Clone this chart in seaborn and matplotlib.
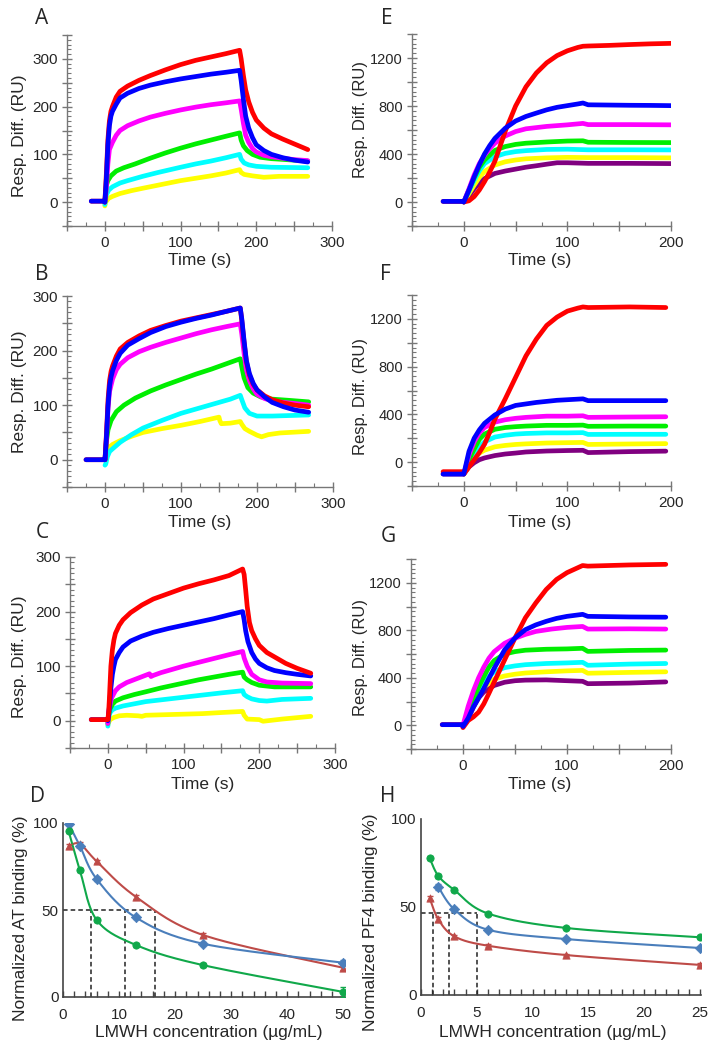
import numpy as np
import seaborn as sns
import matplotlib
matplotlib.use("Agg")
import matplotlib.pyplot as plt
from matplotlib.ticker import MultipleLocator, FuncFormatter

sns.set_style("ticks")
plt.rcParams['font.family'] = ['Liberation Sans', 'DejaVu Sans']

# ---------------- sensorgram data (time s, response RU) ----------------
# panel A
tA_red = [-18, -1, 0, 2, 4, 6, 8, 10, 15, 20, 30, 45, 60, 80, 100, 120, 140, 160, 178, 180, 183, 186, 190, 195, 200, 210, 220, 235, 250, 268]
A_red = [2, 2, 0, 60, 130, 170, 190, 200, 220, 232, 243, 255, 265, 277, 288, 297, 304, 311, 318, 300, 265, 235, 210, 188, 172, 155, 143, 132, 122, 110]
tA_blue = [-18, -1, 0, 2, 4, 6, 8, 10, 15, 20, 30, 45, 60, 80, 100, 120, 140, 160, 178, 180, 183, 186, 190, 195, 200, 210, 220, 235, 250, 268]
A_blue = [2, 2, 0, 50, 120, 160, 180, 190, 205, 218, 228, 238, 245, 252, 258, 263, 268, 272, 276, 255, 215, 180, 155, 135, 120, 108, 100, 93, 88, 84]
tA_mag = [0, 2, 4, 6, 10, 15, 20, 30, 45, 60, 80, 100, 120, 140, 160, 178, 180, 183, 186, 190, 195, 200, 210, 220, 235, 250, 268]
A_mag = [0, 30, 80, 110, 125, 140, 150, 160, 170, 178, 186, 193, 199, 204, 208, 212, 195, 165, 140, 125, 112, 105, 98, 95, 92, 89, 87]
tA_green = [0, 2, 4, 8, 15, 25, 40, 60, 80, 100, 120, 140, 160, 178, 180, 183, 188, 195, 205, 220, 240, 268]
A_green = [0, 35, 45, 55, 65, 72, 80, 92, 103, 113, 122, 130, 138, 145, 130, 118, 108, 100, 94, 91, 89, 86]
tA_cyan = [0, 2, 5, 10, 20, 30, 50, 70, 100, 120, 140, 160, 178, 180, 184, 190, 200, 220, 268]
A_cyan = [-5, 15, 25, 32, 40, 45, 54, 62, 73, 80, 86, 93, 100, 90, 82, 78, 75, 73, 72]
tA_yellow = [0, 1, 5, 10, 20, 35, 50, 75, 100, 120, 140, 160, 178, 180, 184, 195, 210, 230, 268]
A_yellow = [-8, 0, 8, 12, 18, 24, 29, 37, 45, 50, 55, 61, 68, 62, 58, 55, 52, 54, 54]

# panel B
tB_red = [-25, -1, 0, 2, 4, 6, 8, 10, 15, 20, 30, 45, 60, 80, 100, 120, 140, 160, 178, 180, 183, 186, 190, 195, 200, 210, 220, 235, 250, 268]
B_red = [0, 0, 0, 50, 110, 145, 162, 172, 190, 203, 215, 227, 237, 246, 254, 260, 266, 272, 278, 255, 215, 180, 155, 138, 128, 117, 110, 104, 100, 97]
tB_blue = [-25, -1, 0, 2, 4, 6, 8, 10, 15, 20, 30, 45, 60, 80, 100, 120, 140, 160, 178, 180, 183, 186, 190, 195, 200, 210, 220, 235, 250, 268]
B_blue = [0, 0, 0, 45, 100, 135, 152, 163, 182, 195, 210, 222, 233, 244, 252, 259, 265, 272, 278, 258, 218, 182, 158, 140, 128, 115, 105, 97, 91, 87]
tB_mag = [0, 2, 4, 6, 10, 15, 20, 30, 45, 60, 80, 100, 120, 140, 160, 178, 180, 183, 186, 190, 195, 200, 210, 220, 235, 250, 268]
B_mag = [0, 40, 95, 125, 148, 165, 175, 187, 198, 206, 215, 223, 231, 238, 244, 249, 230, 195, 165, 145, 130, 120, 112, 108, 105, 103, 100]
tB_green = [0, 2, 4, 8, 15, 25, 40, 60, 80, 100, 120, 140, 160, 178, 180, 183, 188, 195, 205, 220, 240, 268]
B_green = [0, 35, 55, 72, 88, 100, 113, 126, 137, 147, 157, 166, 176, 185, 170, 150, 132, 122, 115, 111, 109, 106]
tB_cyan = [0, 1, 3, 6, 10, 20, 35, 50, 75, 100, 125, 150, 165, 178, 180, 184, 190, 200, 220, 268]
B_cyan = [-10, -8, 5, 15, 20, 32, 46, 58, 72, 85, 95, 105, 111, 118, 110, 95, 85, 80, 80, 82]
tB_yellow = [0, 2, 5, 10, 20, 35, 50, 75, 100, 125, 150, 151, 153, 165, 178, 180, 184, 190, 200, 206, 215, 230, 268]
B_yellow = [0, 10, 22, 28, 35, 43, 50, 57, 63, 70, 78, 72, 66, 67, 70, 65, 57, 52, 45, 42, 46, 49, 52]

# panel C
tC_red = [-22, -1, 0, 1, 2, 3, 4, 6, 8, 10, 15, 20, 30, 45, 60, 80, 100, 120, 140, 160, 178, 180, 182, 184, 187, 190, 195, 200, 210, 220, 235, 250, 268]
C_red = [2, 2, 2, 15, 40, 70, 100, 130, 148, 160, 175, 185, 198, 212, 223, 233, 243, 251, 258, 266, 278, 268, 240, 210, 180, 165, 150, 138, 125, 117, 105, 96, 87]
tC_blue = [-22, -1, 0, 1, 2, 4, 6, 8, 10, 15, 20, 30, 45, 60, 80, 100, 120, 140, 160, 178, 180, 182, 185, 190, 195, 200, 210, 220, 235, 250, 268]
C_blue = [2, 2, 0, 10, 25, 60, 85, 100, 112, 125, 135, 146, 155, 162, 169, 175, 181, 187, 194, 200, 185, 165, 145, 125, 113, 105, 97, 92, 88, 85, 82]
tC_mag = [0, 1, 3, 5, 10, 15, 25, 40, 55, 57, 60, 70, 85, 100, 120, 140, 160, 178, 180, 184, 190, 200, 210, 230, 268]
C_mag = [-5, 15, 30, 42, 55, 62, 70, 78, 86, 81, 83, 88, 94, 100, 107, 114, 121, 127, 115, 100, 85, 75, 71, 69, 68]
tC_green = [0, 1, 3, 6, 10, 20, 35, 50, 70, 100, 120, 140, 160, 178, 180, 184, 190, 200, 220, 268]
C_green = [-5, 10, 22, 30, 36, 42, 48, 53, 60, 69, 75, 80, 85, 89, 80, 75, 70, 65, 62, 62]
tC_cyan = [0, 1, 3, 6, 10, 20, 35, 50, 75, 100, 125, 150, 178, 180, 184, 190, 200, 210, 230, 268]
C_cyan = [-10, 5, 15, 20, 23, 27, 31, 35, 39, 43, 47, 51, 55, 48, 44, 40, 37, 36, 39, 41]
tC_yellow = [0, 1, 3, 8, 15, 25, 40, 45, 50, 75, 100, 125, 150, 178, 180, 184, 200, 205, 230, 268]
C_yellow = [-8, -3, 2, 6, 9, 10, 9, 8, 10, 11, 12, 13, 15, 17, 10, 3, 2, -1, 3, 8]

# panel E
tE_red = [-20, -1, 0, 5, 10, 15, 20, 25, 30, 40, 50, 60, 70, 80, 90, 100, 110, 115, 120, 140, 160, 180, 200]
E_red = [5, 5, 0, 10, 45, 100, 170, 250, 340, 590, 800, 960, 1075, 1160, 1220, 1260, 1288, 1298, 1300, 1305, 1312, 1318, 1322]
tE_blue = [-20, -1, 0, 5, 10, 15, 20, 25, 30, 40, 50, 60, 70, 80, 90, 100, 110, 115, 120, 140, 160, 180, 200]
E_blue = [5, 5, 0, 100, 210, 310, 400, 470, 530, 615, 675, 713, 741, 768, 789, 803, 817, 825, 810, 808, 806, 805, 803]
tE_mag = [0, 5, 10, 15, 20, 25, 30, 40, 50, 60, 80, 100, 115, 120, 160, 200]
E_mag = [0, 110, 225, 320, 390, 445, 490, 550, 587, 610, 630, 643, 655, 645, 645, 643]
tE_green = [0, 5, 10, 15, 20, 30, 40, 50, 60, 80, 100, 115, 120, 160, 200]
E_green = [0, 100, 200, 290, 350, 430, 462, 480, 490, 500, 508, 510, 498, 496, 495]
tE_cyan = [0, 5, 10, 15, 20, 30, 40, 50, 60, 80, 100, 120, 160, 200]
E_cyan = [0, 90, 180, 260, 320, 378, 405, 420, 428, 438, 440, 435, 435, 434]
tE_yellow = [0, 5, 10, 15, 20, 30, 40, 50, 60, 80, 100, 120, 160, 200]
E_yellow = [0, 70, 140, 205, 255, 308, 335, 350, 360, 368, 372, 370, 370, 368]
tE_purple = [0, 5, 10, 15, 20, 30, 40, 50, 60, 70, 80, 90, 100, 120, 160, 200]
E_purple = [0, 50, 110, 160, 195, 238, 258, 274, 290, 302, 315, 327, 327, 322, 322, 320]

# panel F
tF_red = [-20, -1, 0, 5, 10, 15, 20, 25, 30, 40, 50, 60, 70, 80, 90, 100, 110, 115, 120, 160, 195]
F_red = [-80, -80, -100, -40, 20, 80, 150, 250, 360, 530, 710, 890, 1030, 1145, 1215, 1265, 1290, 1300, 1295, 1300, 1295]
tF_blue = [-20, -1, 0, 5, 10, 15, 20, 30, 40, 50, 70, 90, 115, 120, 160, 195]
F_blue = [-100, -100, -100, 90, 200, 270, 325, 395, 444, 475, 500, 518, 530, 515, 515, 515]
tF_mag = [0, 5, 10, 15, 20, 30, 40, 50, 60, 80, 100, 115, 120, 160, 195]
F_mag = [-100, 60, 170, 245, 290, 335, 355, 367, 375, 385, 385, 388, 375, 378, 380]
tF_green = [0, 5, 10, 15, 20, 30, 40, 50, 60, 80, 100, 115, 120, 160, 195]
F_green = [-100, 20, 110, 190, 235, 275, 290, 297, 302, 308, 308, 310, 300, 302, 302]
tF_cyan = [0, 5, 10, 15, 20, 30, 40, 50, 60, 80, 100, 115, 120, 160, 195]
F_cyan = [-100, -10, 70, 130, 170, 210, 225, 235, 240, 245, 245, 247, 232, 233, 233]
tF_yellow = [0, 5, 10, 15, 20, 30, 40, 50, 60, 80, 100, 115, 120, 160, 195]
F_yellow = [-100, -30, 40, 75, 100, 128, 140, 148, 153, 160, 163, 165, 148, 152, 155]
tF_purple = [-20, -1, 0, 5, 10, 15, 20, 30, 40, 50, 60, 80, 100, 115, 120, 160, 195]
F_purple = [-100, -100, -100, -40, -5, 20, 35, 55, 68, 76, 85, 93, 97, 99, 80, 88, 92]

# panel G
tG_red = [-20, -1, 0, 5, 10, 15, 20, 25, 30, 40, 50, 60, 70, 80, 90, 100, 110, 115, 120, 160, 195]
G_red = [5, 5, -20, 40, 70, 110, 180, 270, 365, 550, 735, 905, 1030, 1143, 1228, 1285, 1325, 1345, 1340, 1350, 1355]
tG_blue = [-20, -1, 0, 5, 10, 15, 20, 25, 30, 40, 50, 60, 70, 80, 90, 100, 115, 120, 160, 195]
G_blue = [5, 5, -10, 60, 155, 230, 310, 395, 480, 635, 735, 805, 845, 875, 900, 917, 934, 917, 912, 910]
tG_mag = [0, 5, 10, 15, 20, 25, 30, 40, 50, 60, 70, 85, 100, 115, 120, 160, 195]
G_mag = [0, 160, 290, 400, 490, 565, 620, 690, 733, 765, 790, 810, 824, 832, 810, 812, 810]
tG_green = [0, 5, 10, 15, 20, 25, 30, 40, 50, 60, 80, 100, 115, 120, 160, 195]
G_green = [0, 90, 210, 320, 410, 490, 545, 600, 620, 632, 640, 643, 648, 622, 630, 633]
tG_cyan = [0, 5, 10, 15, 20, 30, 40, 50, 60, 80, 100, 115, 120, 160, 195]
G_cyan = [0, 80, 190, 300, 375, 450, 485, 500, 510, 520, 525, 530, 505, 515, 520]
tG_yellow = [0, 5, 10, 15, 20, 30, 40, 50, 60, 80, 100, 115, 120, 160, 195]
G_yellow = [0, 70, 170, 250, 320, 390, 415, 430, 440, 450, 458, 462, 438, 445, 450]
tG_purple = [0, 5, 10, 15, 20, 30, 40, 50, 60, 80, 100, 115, 120, 160, 195]
G_purple = [0, 60, 150, 230, 280, 335, 362, 375, 380, 382, 375, 370, 350, 355, 365]

# ---------------- dose-response data ----------------
D_conc_blue = [1, 3, 6, 13, 25, 50]
D_blue = [99.6, 87, 67.8, 45.7, 30.6, 19.7]
D_blue_err = [1.0, 1.0, 1.2, 1.0, 1.0, 1.5]
D_conc_red = [1, 3, 6, 13, 25, 50]
D_red = [86.7, 88.0, 78.0, 57.6, 35.6, 16.8]
D_red_err = [1.0, 1.2, 1.0, 1.0, 1.2, 1.5]
D_conc_green = [1, 3, 6, 13, 25, 50]
D_green = [95.4, 73.0, 44.3, 29.9, 18.3, 2.9]
D_green_err = [1.0, 1.0, 1.0, 1.2, 1.0, 3.0]

H_conc_green = [0.78, 1.56, 3, 6, 13, 25]
H_green = [77.7, 67.6, 59.6, 46.3, 38.1, 32.8]
H_green_err = [1.2, 1.2, 1.0, 0.8, 0.8, 0.8]
H_conc_blue = [1.56, 3, 6, 13, 25]
H_blue = [61.3, 48.6, 37.1, 31.8, 26.7]
H_blue_err = [1.8, 1.5, 1.0, 0.8, 0.8]
H_conc_red = [0.78, 1.56, 3, 6, 13, 25]
H_red = [55.0, 42.9, 33.3, 28.0, 22.7, 17.1]
H_red_err = [1.2, 1.2, 1.0, 0.8, 0.8, 0.8]

D_ic50 = [5.0, 11.1, 16.4]
H_ic50 = [1.05, 2.55, 5.0]
H_half = 46.5

# colours
SG = {'red': '#ff0000', 'blue': '#0000ff', 'mag': '#ff00ff', 'green': '#00ee00',
      'cyan': '#00ffff', 'yellow': '#ffff00', 'purple': '#800080'}
C_BLUE, C_RED, C_GREEN = '#4a7ebb', '#be4b48', '#10a84a'

W, H = 717, 1050
fig = plt.figure(figsize=(W / 100, H / 100), dpi=100)


def add_ax(l, t, r, b):
    return fig.add_axes([l / W, 1 - b / H, (r - l) / W, (b - t) / H])


def style_sensor(ax, xlim, ylim, ymaj, ylab_step, ymin_step):
    ax.set_xlim(*xlim)
    ax.set_ylim(*ylim)
    for s in ['top', 'right']:
        ax.spines[s].set_visible(False)
    for s in ['left', 'bottom']:
        ax.spines[s].set_color('#777777')
        ax.spines[s].set_linewidth(1)
    ax.xaxis.set_major_locator(MultipleLocator(50))
    ax.xaxis.set_minor_locator(MultipleLocator(25))
    ax.yaxis.set_major_locator(MultipleLocator(ymaj))
    ax.yaxis.set_minor_locator(MultipleLocator(ymin_step))
    ax.xaxis.set_major_formatter(FuncFormatter(lambda v, p: f"{v:.0f}" if v >= 0 and round(v) % 100 == 0 else ""))
    ax.yaxis.set_major_formatter(FuncFormatter(lambda v, p: f"{v:.0f}" if v >= 0 and round(v) % ylab_step == 0 else ""))
    ax.tick_params(which='major', direction='inout', length=7, width=1, color='#777777', labelsize=11)
    ax.tick_params(axis='x', which='major', pad=4)
    ax.tick_params(axis='y', which='major', pad=3)
    ax.tick_params(which='minor', direction='in', length=3, width=0.8, color='#777777')
    ax.set_xlabel("")
    ax.set_ylabel("")


def draw_curves(ax, curves):
    for t, v, c in curves:
        sns.lineplot(x=t, y=v, color=SG[c], lw=3.4, ax=ax, sort=False, legend=False)


def smooth(x, y, xspan, yspan, n=30):
    # Catmull-Rom style smoothing of the line through the data points
    P = np.column_stack([np.asarray(x, float) / xspan, np.asarray(y, float) / yspan])
    P = np.vstack([P[0], P, P[-1]])
    out = []
    s = np.linspace(0, 1, n)[:, None]
    for i in range(1, len(P) - 2):
        p0, p1, p2, p3 = P[i - 1], P[i], P[i + 1], P[i + 2]
        seg = 0.5 * ((2 * p1) + (-p0 + p2) * s + (2 * p0 - 5 * p1 + 4 * p2 - p3) * s ** 2
                     + (-p0 + 3 * p1 - 3 * p2 + p3) * s ** 3)
        out.append(seg)
    out = np.vstack(out)
    return out[:, 0] * xspan, out[:, 1] * yspan


# ---------------- left column ----------------
axA = add_ax(67, 35, 332, 226)
draw_curves(axA, [(tA_yellow, A_yellow, 'yellow'), (tA_cyan, A_cyan, 'cyan'), (tA_green, A_green, 'green'),
                  (tA_mag, A_mag, 'mag'), (tA_red, A_red, 'red'), (tA_blue, A_blue, 'blue')])
style_sensor(axA, (-50, 300), (-50, 350), 50, 100, 10)

axB = add_ax(67, 296, 333, 487)
draw_curves(axB, [(tB_yellow, B_yellow, 'yellow'), (tB_cyan, B_cyan, 'cyan'), (tB_green, B_green, 'green'),
                  (tB_mag, B_mag, 'mag'), (tB_red, B_red, 'red'), (tB_blue, B_blue, 'blue')])
style_sensor(axB, (-50, 300), (-50, 300), 50, 100, 10)

axC = add_ax(70, 557, 335, 748)
draw_curves(axC, [(tC_yellow, C_yellow, 'yellow'), (tC_cyan, C_cyan, 'cyan'), (tC_green, C_green, 'green'),
                  (tC_mag, C_mag, 'mag'), (tC_blue, C_blue, 'blue'), (tC_red, C_red, 'red')])
style_sensor(axC, (-50, 300), (-50, 300), 50, 100, 10)

# ---------------- right column ----------------
axE = add_ax(412, 34, 671, 226)
draw_curves(axE, [(tE_purple, E_purple, 'purple'), (tE_yellow, E_yellow, 'yellow'), (tE_cyan, E_cyan, 'cyan'),
                  (tE_green, E_green, 'green'), (tE_mag, E_mag, 'mag'), (tE_red, E_red, 'red'),
                  (tE_blue, E_blue, 'blue')])
style_sensor(axE, (-50, 200), (-200, 1400), 200, 400, 40)

axF = add_ax(412, 295, 671, 486)
draw_curves(axF, [(tF_purple, F_purple, 'purple'), (tF_yellow, F_yellow, 'yellow'), (tF_cyan, F_cyan, 'cyan'),
                  (tF_green, F_green, 'green'), (tF_mag, F_mag, 'mag'), (tF_red, F_red, 'red'),
                  (tF_blue, F_blue, 'blue')])
style_sensor(axF, (-50, 200), (-200, 1400), 200, 400, 40)

axG = add_ax(411, 559, 671, 749)
draw_curves(axG, [(tG_purple, G_purple, 'purple'), (tG_yellow, G_yellow, 'yellow'), (tG_cyan, G_cyan, 'cyan'),
                  (tG_green, G_green, 'green'), (tG_red, G_red, 'red'), (tG_mag, G_mag, 'mag'),
                  (tG_blue, G_blue, 'blue')])
style_sensor(axG, (-50, 200), (-200, 1400), 200, 400, 40)
for ax in (axE, axF, axG):
    ax.tick_params(axis='y', which='major', labelsize=10.5)


# ---------------- dose-response panels ----------------
def style_dose(ax, xmax, xmaj, xmin):
    ax.set_xlim(0, xmax)
    ax.set_ylim(0, 100)
    for s in ['top', 'right']:
        ax.spines[s].set_visible(False)
    for s in ['left', 'bottom']:
        ax.spines[s].set_color('#444444')
        ax.spines[s].set_linewidth(1.2)
    ax.xaxis.set_major_locator(MultipleLocator(xmaj))
    ax.xaxis.set_minor_locator(MultipleLocator(xmin))
    ax.yaxis.set_major_locator(MultipleLocator(50))
    ax.tick_params(axis='x', which='both', direction='in', length=4, width=1, color='#444444', labelsize=11, pad=8)
    ax.tick_params(axis='y', which='major', length=0, labelsize=11, pad=3)
    ax.set_xlabel("")
    ax.set_ylabel("")


def draw_dose(ax, series, xspan):
    for x, y, e, c, m in series:
        sx, sy = smooth(x, y, xspan, 100)
        ax.plot(sx, sy, color=c, lw=1.5, zorder=2)
        ax.errorbar(x, y, yerr=e, fmt='none', ecolor=c, elinewidth=1, capsize=2, zorder=3)
        sns.scatterplot(x=x, y=y, color=c, marker=m, s=28, edgecolor=c, linewidth=0.5, ax=ax, zorder=4, legend=False)


axD = add_ax(63, 823, 345, 997)
draw_dose(axD, [(D_conc_red, D_red, D_red_err, C_RED, '^'),
                (D_conc_blue, D_blue, D_blue_err, C_BLUE, 'D'),
                (D_conc_green, D_green, D_green_err, C_GREEN, 'o')], 50)
axD.plot([0, max(D_ic50)], [50, 50], ls=(0, (3, 2)), color='#222222', lw=1.1, zorder=1)
for xv in D_ic50:
    axD.plot([xv, xv], [0, 50], ls=(0, (3, 2)), color='#222222', lw=1.1, zorder=1)
style_dose(axD, 50.3, 10, 2)

axH = add_ax(421, 819, 701, 995)
draw_dose(axH, [(H_conc_red, H_red, H_red_err, C_RED, '^'),
                (H_conc_blue, H_blue, H_blue_err, C_BLUE, 'D'),
                (H_conc_green, H_green, H_green_err, C_GREEN, 'o')], 25)
axH.plot([0, max(H_ic50)], [H_half, H_half], ls=(0, (3, 2)), color='#222222', lw=1.1, zorder=1)
for xv in H_ic50:
    axH.plot([xv, xv], [0, H_half], ls=(0, (3, 2)), color='#222222', lw=1.1, zorder=1)
style_dose(axH, 25.1, 5, 1)

# ---------------- labels ----------------
def ftext(x, y, s, **kw):
    fig.text(x / W, 1 - y / H, s, ha='center', va='center', **kw)


for x, y in [(200, 260), (200, 522), (203, 784), (540, 260), (540, 522), (540, 784)]:
    ftext(x, y, "Time (s)", fontsize=12.5)
for x, y in [(20, 136), (20, 392), (20, 657)]:
    ftext(x, y, "Resp. Diff. (RU)", fontsize=12.5, rotation=90)
for x, y in [(361, 120), (361, 397), (361, 658)]:
    ftext(x, y, "Resp. Diff. (RU)", fontsize=12, rotation=90)

ftext(21, 918, "Normalized AT binding (%)", fontsize=12.5, rotation=90)
ftext(370, 922, "Normalized PF4 binding (%)", fontsize=12.5, rotation=90)
ftext(209, 1032, "LMWH concentration (µg/mL)", fontsize=12.5)
ftext(553, 1033, "LMWH concentration (µg/mL)", fontsize=12.5)

for lab, x, y in [('A', 42, 19), ('B', 42, 275), ('C', 42, 533), ('D', 38, 797),
                  ('E', 387, 19), ('F', 385, 275), ('G', 388, 537), ('H', 388, 797)]:
    ftext(x, y, lab, fontsize=15, family=['Open Sans', 'DejaVu Sans'])

fig.savefig("out.png", dpi=100)
